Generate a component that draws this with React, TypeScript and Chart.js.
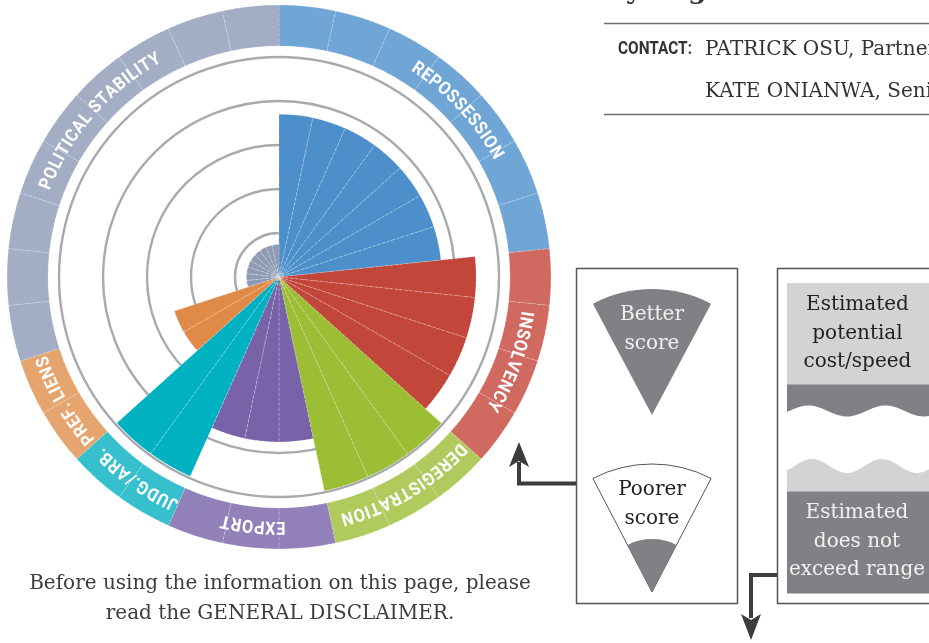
import React, { useEffect, useRef } from "react";
import { Chart, registerables } from "chart.js";

Chart.register(...registerables);

// ---------- data ----------
const categories = [
  "REPOSSESSION",
  "INSOLVENCY",
  "DEREGISTRATION",
  "EXPORT",
  "JUDG./ARB.",
  "PREF. LIENS",
  "POLITICAL STABILITY",
];
const subSegments = [7, 4, 3, 3, 2, 2, 9];
const scores = [3.7, 4.48, 4.97, 3.75, 4.96, 2.5, 0.74];
const wedgeColors = ["#4c8fcb", "#c3463a", "#9cbe35", "#7862a8", "#00b1c2", "#e08a47", "#8f9bb4"];
const ringColors = ["#70a6d6", "#d06a61", "#b0ca5e", "#9280b8", "#36c0ce", "#e6a46f", "#a3aec4"];
const scaleMax = 5;
const scaleStep = 1;

const segCat: number[] = [];
subSegments.forEach((n, i) => {
  for (let k = 0; k < n; k++) segCat.push(i);
});
const polarValues = segCat.map((i) => scores[i]);
const ringValues = segCat.map(() => 1);
const segLabels = segCat.map((i) => categories[i]);

const CX = 279;
const CY = 277;
const RING_OUT = 272;
const RING_IN = 231;

const SERIF = '"DejaVu Serif", "Liberation Serif", serif';
const SANS = 'Roboto, "Noto Sans", sans-serif';

const labelShiftDeg = [5, 2, -1, 0, -1, 0, 5];

const ringLabelPlugin = {
  id: "ringLabels",
  afterDatasetsDraw(chart: any) {
    const meta = chart.getDatasetMeta(0);
    const ctx = chart.ctx as CanvasRenderingContext2D;
    const sx = 0.9;
    ctx.save();
    ctx.font = `bold 18px ${SANS}`;
    ctx.fillStyle = "#ffffff";
    ctx.textAlign = "center";
    ctx.textBaseline = "alphabetic";
    let idx = 0;
    categories.forEach((label, ci) => {
      const first = meta.data[idx];
      const last = meta.data[idx + subSegments[ci] - 1];
      idx += subSegments[ci];
      const p = first.getProps(["x", "y", "innerRadius", "outerRadius", "startAngle"], true);
      const endA = last.getProps(["endAngle"], true).endAngle;
      const mid = (p.startAngle + endA) / 2 + (labelShiftDeg[ci] * Math.PI) / 180;
      const rBase = (p.innerRadius + p.outerRadius) / 2 - 6.5;
      const spacing = 0.6;
      const chars = Array.from(label);
      const widths = chars.map((c) => ctx.measureText(c).width * sx);
      const total = widths.reduce((a, b) => a + b, 0) + spacing * (chars.length - 1);
      let acc = -total / 2;
      chars.forEach((c, i) => {
        const a = mid + (acc + widths[i] / 2) / rBase;
        ctx.save();
        ctx.translate(p.x + rBase * Math.cos(a), p.y + rBase * Math.sin(a));
        ctx.rotate(a + Math.PI / 2);
        ctx.scale(sx, 1);
        ctx.fillText(c, 0, 0);
        ctx.restore();
        acc += widths[i] + spacing;
      });
    });
    ctx.restore();
  },
};

function wavePoints(xFrom: number, xTo: number, yMid: number, amp: number, period: number, phaseX: number) {
  const pts: string[] = [];
  const step = xFrom < xTo ? 2 : -2;
  for (let x = xFrom; step > 0 ? x <= xTo : x >= xTo; x += step) {
    const y = yMid + amp * Math.cos((2 * Math.PI * (x - phaseX)) / period);
    pts.push(x.toFixed(1) + "," + y.toFixed(2));
  }
  return pts;
}

function sectorPath(ax: number, ay: number, r: number, halfDeg: number) {
  const h = (halfDeg * Math.PI) / 180;
  const x1 = ax - r * Math.sin(h);
  const x2 = ax + r * Math.sin(h);
  const y = ay - r * Math.cos(h);
  return `M${ax},${ay} L${x1.toFixed(2)},${y.toFixed(2)} A${r},${r} 0 0 1 ${x2.toFixed(2)},${y.toFixed(2)} Z`;
}

function Legend() {
  const topWave = wavePoints(931, 787, 411, 5.5, 77, 847);
  const botWave = wavePoints(787, 931, 466, 7, 70, 847);
  const topPath = `M787,384.5 L931,384.5 L${topWave.join(" L")} Z`;
  const botPath = `M${botWave.join(" L")} L931,492 L787,492 Z`;
  return (
    <svg
      width={929}
      height={643}
      style={{ position: "absolute", left: 0, top: 0, pointerEvents: "none" }}
    >
      {/* heading (cut off at top) */}
      <text x={604} y={-1} fontFamily={SERIF} fontWeight="bold" fontSize={26} fill="#333">
        By Region
      </text>
      <line x1={604} y1={23.5} x2={929} y2={23.5} stroke="#6d6d6d" strokeWidth={1.3} />
      <line x1={604} y1={114.5} x2={929} y2={114.5} stroke="#6d6d6d" strokeWidth={1.3} />
      <text
        x={618}
        y={54}
        fontFamily={SANS}
        fontWeight="bold"
        fontSize={18.5}
        fill="#333"
        textLength={74}
        lengthAdjust="spacingAndGlyphs"
      >
        CONTACT:
      </text>
      <text x={705} y={54.5} fontFamily={SERIF} fontSize={20} fill="#333">
        PATRICK OSU, Partner
      </text>
      <text x={705} y={97} fontFamily={SERIF} fontSize={20} fill="#333">
        KATE ONIANWA, Senior Associate
      </text>

      {/* left legend box */}
      <rect x={576.5} y={268.5} width={161} height={335} fill="#fff" stroke="#555" strokeWidth={1.5} />
      <path d={sectorPath(652, 415, 126, 28)} fill="#808184" />
      <text x={652} y={320} textAnchor="middle" fontFamily={SERIF} fontSize={20} fill="#f0f0f0">
        Better
      </text>
      <text x={652} y={349} textAnchor="middle" fontFamily={SERIF} fontSize={20} fill="#f0f0f0">
        score
      </text>
      <path d={sectorPath(652, 592, 128, 27.5)} fill="#fff" stroke="#555" strokeWidth={1} />
      <path d={sectorPath(652, 592, 53, 27.5)} fill="#808184" />
      <text x={652} y={495} textAnchor="middle" fontFamily={SERIF} fontSize={20} fill="#222">
        Poorer
      </text>
      <text x={652} y={523.5} textAnchor="middle" fontFamily={SERIF} fontSize={20} fill="#222">
        score
      </text>

      {/* right legend box */}
      <rect x={777.5} y={268.5} width={200} height={335} fill="#fff" stroke="#555" strokeWidth={1.5} />
      <rect x={787} y={283} width={150} height={102} fill="#d1d3d4" />
      <path d={topPath} fill="#808184" />
      <path d={botPath} fill="#d1d3d4" />
      <rect x={787} y={491.5} width={150} height={102} fill="#808184" />
      <text x={857.5} y={310} textAnchor="middle" fontFamily={SERIF} fontSize={20} fill="#231f20">
        Estimated
      </text>
      <text x={857.5} y={339} textAnchor="middle" fontFamily={SERIF} fontSize={20} fill="#231f20">
        potential
      </text>
      <text x={857.5} y={367} textAnchor="middle" fontFamily={SERIF} fontSize={20} fill="#231f20">
        cost/speed
      </text>
      <text x={857} y={518} textAnchor="middle" fontFamily={SERIF} fontSize={20} fill="#f2f2f2">
        Estimated
      </text>
      <text x={857} y={547} textAnchor="middle" fontFamily={SERIF} fontSize={20} fill="#f2f2f2">
        does not
      </text>
      <text x={857} y={575} textAnchor="middle" fontFamily={SERIF} fontSize={20} fill="#f2f2f2">
        exceed range
      </text>

      {/* arrows */}
      <polyline points="576,483.5 519,483.5 519,462" fill="none" stroke="#3c3c3c" strokeWidth={4} />
      <polygon points="519,442 529,467 519,461 509,467" fill="#3c3c3c" />
      <polyline points="777,575 751,575 751,618" fill="none" stroke="#3c3c3c" strokeWidth={4} />
      <polygon points="751,640 741,614 751,620 761,614" fill="#3c3c3c" />

      {/* disclaimer */}
      <text x={280} y={589} textAnchor="middle" fontFamily={SERIF} fontSize={20} fill="#3d3d3d">
        Before using the information on this page, please
      </text>
      <text x={280} y={619} textAnchor="middle" fontFamily={SERIF} fontSize={20} fill="#3d3d3d">
        read the GENERAL DISCLAIMER.
      </text>
    </svg>
  );
}

export default function App() {
  const ringRef = useRef<HTMLCanvasElement>(null);
  const polarRef = useRef<HTMLCanvasElement>(null);

  useEffect(() => {
    const ring = new Chart(ringRef.current as HTMLCanvasElement, {
      type: "doughnut",
      data: {
        labels: segLabels,
        datasets: [
          {
            data: ringValues,
            backgroundColor: segCat.map((i) => ringColors[i]),
            borderColor: "rgba(255,255,255,0.32)",
            borderWidth: 0.8,
            borderDash: [3, 2],
          } as any,
        ],
      },
      options: {
        responsive: false,
        animation: false,
        events: [],
        radius: RING_OUT,
        cutout: `${(RING_IN / RING_OUT) * 100}%`,
        plugins: { legend: { display: false }, tooltip: { enabled: false } },
      } as any,
      plugins: [ringLabelPlugin as any],
    });

    const polar = new Chart(polarRef.current as HTMLCanvasElement, {
      type: "polarArea",
      data: {
        labels: segLabels,
        datasets: [
          {
            data: polarValues,
            backgroundColor: segCat.map((i) => wedgeColors[i]),
            borderColor: "rgba(255,255,255,0.4)",
            borderWidth: 0.7,
            borderDash: [3, 2],
          } as any,
        ],
      },
      options: {
        responsive: false,
        animation: false,
        events: [],
        layout: { padding: 10 },
        plugins: { legend: { display: false }, tooltip: { enabled: false } },
        scales: {
          r: {
            min: 0,
            max: scaleMax,
            ticks: { display: false, stepSize: scaleStep },
            grid: { color: "#a9aaae", lineWidth: 2.4, circular: true },
            angleLines: { display: false },
            pointLabels: { display: false },
          },
        },
      } as any,
    });

    return () => {
      ring.destroy();
      polar.destroy();
    };
  }, []);

  return (
    <div
      style={{
        position: "absolute",
        left: 0,
        top: 0,
        width: 929,
        height: 643,
        overflow: "hidden",
        background: "#fff",
      }}
    >
      <canvas
        ref={ringRef}
        width={560}
        height={560}
        style={{ position: "absolute", left: CX - 280, top: CY - 280, width: 560, height: 560 }}
      />
      <canvas
        ref={polarRef}
        width={460}
        height={460}
        style={{ position: "absolute", left: CX - 230, top: CY - 230, width: 460, height: 460 }}
      />
      <Legend />
    </div>
  );
}
